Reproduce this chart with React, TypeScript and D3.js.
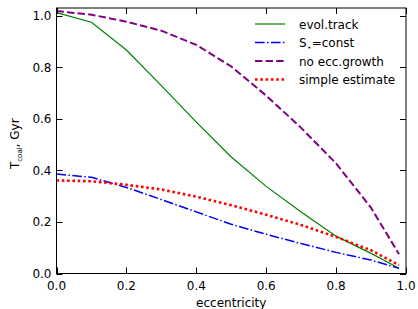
import React, { useRef, useEffect } from "react";
import * as d3 from "d3";

// eccentricity grid
const ecc = [0, 0.1, 0.2, 0.3, 0.4, 0.5, 0.6, 0.7, 0.8, 0.9, 0.98];

// coalescence times, Gyr
const evolTrack = [1.012, 0.975, 0.867, 0.729, 0.587, 0.452, 0.338, 0.239, 0.145, 0.078, 0.02];
const sConst = [0.386, 0.373, 0.334, 0.287, 0.239, 0.191, 0.152, 0.116, 0.082, 0.052, 0.02];
const noEccGrowth = [1.018, 1.004, 0.977, 0.942, 0.887, 0.803, 0.69, 0.565, 0.427, 0.255, 0.075];
const simpleEstimate = [0.361, 0.358, 0.344, 0.326, 0.298, 0.265, 0.228, 0.188, 0.142, 0.09, 0.032];

const xTicks = [0, 0.2, 0.4, 0.6, 0.8, 1.0];
const yTicks = [0, 0.2, 0.4, 0.6, 0.8, 1.0];

const W = 418;
const H = 309;
const margin = { left: 56.5, right: 12, top: 8, bottom: 35.5 };

const series = [
  { name: "evol.track", values: evolTrack, color: "#008000", width: 1.2, dash: "" },
  { name: "S*=const", values: sConst, color: "#0000ff", width: 1.5, dash: "9.6,2.4,1.5,2.4" },
  { name: "no ecc.growth", values: noEccGrowth, color: "#800080", width: 2, dash: "7.4,3.2" },
  { name: "simple estimate", values: simpleEstimate, color: "#ff0000", width: 2.6, dash: "2.6,2.7" },
];

const App: React.FC = () => {
  const svgRef = useRef<SVGSVGElement>(null);

  useEffect(() => {
    if (!svgRef.current) return;
    const svg = d3.select(svgRef.current);
    svg.selectAll("*").remove();

    const x = d3.scaleLinear().domain([0, 1]).range([margin.left, W - margin.right]);
    const y = d3.scaleLinear().domain([0, 1.03]).range([H - margin.bottom, margin.top]);

    const font = "'DejaVu Sans', sans-serif";

    // lines
    const line = d3
      .line<number>()
      .x((_, i) => x(ecc[i]))
      .y((d) => y(d));

    const plot = svg.append("g");
    series.forEach((s) => {
      plot
        .append("path")
        .datum(s.values)
        .attr("d", line)
        .attr("fill", "none")
        .attr("stroke", s.color)
        .attr("stroke-width", s.width)
        .attr("stroke-dasharray", s.dash || null);
    });

    // frame
    const x0 = x(0), x1 = x(1), y0 = y(0), y1 = y(1.03);
    svg
      .append("rect")
      .attr("x", x0)
      .attr("y", y1)
      .attr("width", x1 - x0)
      .attr("height", y0 - y1)
      .attr("fill", "none")
      .attr("stroke", "#000")
      .attr("stroke-width", 1);

    // inward ticks on all four sides
    const tl = 6;
    const ticks = svg.append("g").attr("stroke", "#000").attr("stroke-width", 1);
    xTicks.forEach((t) => {
      const px = Math.round(x(t)) + 0.5;
      ticks.append("line").attr("x1", px).attr("x2", px).attr("y1", y0).attr("y2", y0 - tl);
      ticks.append("line").attr("x1", px).attr("x2", px).attr("y1", y1).attr("y2", y1 + tl);
    });
    yTicks.forEach((t) => {
      const py = Math.round(y(t)) + 0.5;
      ticks.append("line").attr("x1", x0).attr("x2", x0 + tl).attr("y1", py).attr("y2", py);
      ticks.append("line").attr("x1", x1).attr("x2", x1 - tl).attr("y1", py).attr("y2", py);
    });

    // tick labels
    svg
      .append("g")
      .selectAll("text")
      .data(xTicks)
      .join("text")
      .attr("x", (d) => x(d))
      .attr("y", y0 + 16)
      .attr("text-anchor", "middle")
      .style("font-family", font)
      .style("font-size", "12px")
      .text((d) => d3.format(".1f")(d));

    svg
      .append("g")
      .selectAll("text")
      .data(yTicks)
      .join("text")
      .attr("x", x0 - 5)
      .attr("y", (d) => y(d) + 4.5)
      .attr("text-anchor", "end")
      .style("font-family", font)
      .style("font-size", "12px")
      .text((d) => d3.format(".1f")(d));

    // axis labels
    svg
      .append("text")
      .attr("x", (x0 + x1) / 2)
      .attr("y", H - 2)
      .attr("text-anchor", "middle")
      .style("font-family", font)
      .style("font-size", "12px")
      .text("eccentricity");

    const yl = svg
      .append("text")
      .attr("transform", `translate(19, ${(y0 + y1) / 2 + 3}) rotate(-90)`)
      .attr("text-anchor", "middle")
      .style("font-family", font)
      .style("font-size", "12px");
    yl.append("tspan").text("T");
    yl.append("tspan").attr("dy", 3).style("font-size", "7px").text("coal");
    yl.append("tspan").attr("dy", -3).text(", Gyr");

    // legend
    const leg = svg.append("g");
    const rowY = [24, 42.5, 61, 79.5];
    series.forEach((s, i) => {
      leg
        .append("line")
        .attr("x1", 255)
        .attr("x2", 285)
        .attr("y1", rowY[i])
        .attr("y2", rowY[i])
        .attr("stroke", s.color)
        .attr("stroke-width", s.width)
        .attr("stroke-dasharray", s.dash || null);
      const t = leg
        .append("text")
        .attr("x", 299)
        .attr("y", rowY[i] + 4.5)
        .style("font-family", font)
        .style("font-size", "12px");
      if (s.name === "S*=const") {
        t.append("tspan").text("S");
        t.append("tspan").attr("dy", 3).style("font-size", "8px").text("\u22c6");
        t.append("tspan").attr("dy", -3).text("=const");
      } else {
        t.text(s.name);
      }
    });
  }, []);

  return (
    <div style={{ position: "absolute", left: 0, top: 0 }}>
      <svg ref={svgRef} width={W} height={H} style={{ display: "block", background: "#fff" }} />
    </div>
  );
};

export default App;
